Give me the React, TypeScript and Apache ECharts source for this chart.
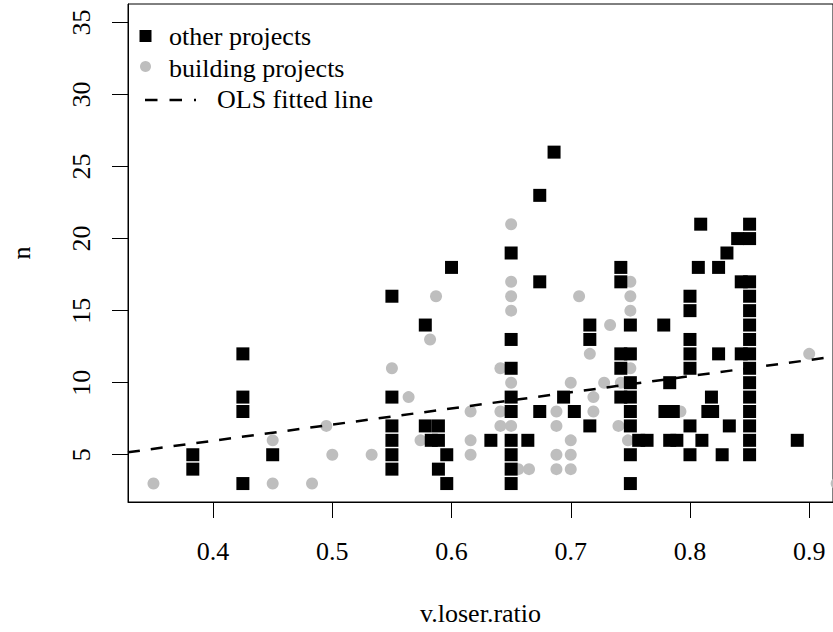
import React, { useEffect, useRef } from "react";
import * as echarts from "echarts";

// other projects (black squares)
const otherRatio = [
  0.383, 0.383, 0.425, 0.425, 0.425, 0.425, 0.45,
  0.55, 0.55, 0.55, 0.55, 0.55, 0.55,
  0.578, 0.578, 0.589, 0.583, 0.589, 0.596, 0.589, 0.596, 0.6,
  0.633,
  0.65, 0.65, 0.65, 0.65, 0.65, 0.65, 0.65, 0.65, 0.65,
  0.664, 0.674, 0.674, 0.674, 0.686, 0.694, 0.703,
  0.716, 0.716, 0.716,
  0.742, 0.742, 0.742, 0.742, 0.742,
  0.75, 0.75, 0.75, 0.75, 0.75, 0.75, 0.75, 0.75,
  0.757, 0.764,
  0.778, 0.783, 0.779, 0.786, 0.783, 0.789,
  0.8, 0.8, 0.8, 0.8, 0.8, 0.8, 0.8,
  0.807, 0.809, 0.81, 0.815, 0.819, 0.818,
  0.824, 0.824, 0.827, 0.831, 0.833,
  0.84, 0.843, 0.843,
  0.85, 0.85, 0.85, 0.85, 0.85, 0.85, 0.85, 0.85, 0.85, 0.85, 0.85, 0.85, 0.85, 0.85, 0.85,
  0.89,
];
const otherN = [
  5, 4, 12, 9, 8, 3, 5,
  16, 9, 7, 6, 5, 4,
  14, 7, 7, 6, 6, 5, 4, 3, 18,
  6,
  19, 13, 11, 9, 8, 6, 5, 4, 3,
  6, 8, 17, 23, 26, 9, 8,
  14, 13, 7,
  18, 17, 12, 11, 9,
  14, 12, 10, 9, 8, 7, 5, 3,
  6, 6,
  14, 10, 8, 8, 6, 6,
  16, 15, 13, 12, 11, 7, 5,
  18, 21, 6, 8, 8, 9,
  18, 12, 5, 19, 7,
  20, 17, 12,
  21, 20, 17, 16, 15, 14, 13, 12, 11, 10, 9, 8, 7, 6, 5,
  6,
];

// building projects (grey dots)
const buildingRatio = [
  0.35, 0.45, 0.45, 0.483, 0.495, 0.5, 0.533,
  0.55, 0.564, 0.574, 0.582, 0.587,
  0.616, 0.616, 0.616, 0.641, 0.641, 0.641,
  0.65, 0.65, 0.65, 0.65, 0.65, 0.65,
  0.656, 0.665, 0.688, 0.688, 0.688, 0.688,
  0.7, 0.7, 0.7, 0.7, 0.707,
  0.716, 0.719, 0.719, 0.728, 0.733, 0.742, 0.74,
  0.75, 0.75, 0.75, 0.75, 0.748,
  0.792, 0.9, 0.923,
];
const buildingN = [
  3, 6, 3, 3, 7, 5, 5,
  11, 9, 6, 13, 16,
  8, 6, 5, 11, 8, 7,
  21, 17, 16, 15, 10, 7,
  4, 4, 8, 7, 5, 4,
  10, 6, 5, 4, 16,
  12, 9, 8, 10, 14, 10, 7,
  17, 16, 15, 11, 6,
  8, 12, 3,
];

// OLS fitted line, end points
const olsRatio = [0.3286, 0.92];
const olsN = [5.17, 11.8];

const xTicks = [0.4, 0.5, 0.6, 0.7, 0.8, 0.9];
const yTicks = [5, 10, 15, 20, 25, 30, 35];

const legendLabels = ["other projects", "building projects", "OLS fitted line"];

const FONT = "Liberation Serif";

function zip(a: number[], b: number[]) {
  return a.map((v, i) => [v, b[i]]);
}

export default function App() {
  const ref = useRef<HTMLDivElement>(null);
  useEffect(() => {
    if (!ref.current) return;
    const chart = echarts.init(ref.current, null, { renderer: "svg" });
    const black = "#000";
    const grey = "#BEBEBE";
    const txt = (text: string, x: number, y: number) => ({
      type: "text",
      x,
      y,
      style: {
        text,
        fontFamily: FONT,
        fontSize: 26,
        fill: black,
        verticalAlign: "middle",
        align: "left",
      },
    });
    chart.setOption({
      animation: false,
      backgroundColor: "#fff",
      textStyle: { fontFamily: FONT },
      grid: {
        left: 123,
        top: 4,
        width: 711,
        height: 498,
        show: true,
        borderColor: black,
        borderWidth: 1,
        containLabel: false,
      },
      xAxis: {
        type: "value",
        min: 0.32864,
        max: 0.91996,
        name: "v.loser.ratio",
        nameLocation: "middle",
        nameGap: 98,
        nameTextStyle: { fontFamily: FONT, fontSize: 26, color: black },
        axisLine: { show: true, lineStyle: { color: black, width: 1 } },
        axisTick: {
          show: true,
          inside: false,
          length: 16,
          customValues: xTicks,
          lineStyle: { color: black, width: 1 },
        },
        axisLabel: {
          show: true,
          customValues: xTicks,
          margin: 36,
          fontFamily: FONT,
          fontSize: 26,
          color: black,
          formatter: (v: number) => v.toFixed(1),
        },
        splitLine: { show: false },
      },
      yAxis: {
        type: "value",
        min: 1.72,
        max: 36.28,
        name: "n",
        nameLocation: "middle",
        nameGap: 94,
        nameTextStyle: { fontFamily: FONT, fontSize: 26, color: black },
        axisLine: { show: true, lineStyle: { color: black, width: 1 } },
        axisTick: {
          show: true,
          inside: false,
          length: 16,
          customValues: yTicks,
          lineStyle: { color: black, width: 1 },
        },
        axisLabel: {
          show: true,
          customValues: yTicks,
          rotate: 90,
          margin: 34,
          fontFamily: FONT,
          fontSize: 26,
          color: black,
        },
        splitLine: { show: false },
      },
      series: [
        {
          name: legendLabels[1],
          type: "scatter",
          symbol: "circle",
          symbolSize: 12,
          clip: false,
          itemStyle: { color: grey, opacity: 1 },
          data: zip(buildingRatio, buildingN),
          z: 2,
        },
        {
          name: legendLabels[0],
          type: "scatter",
          symbol: "rect",
          symbolSize: 13,
          itemStyle: { color: black, opacity: 1 },
          data: zip(otherRatio, otherN),
          z: 3,
        },
        {
          name: legendLabels[2],
          type: "line",
          symbol: "none",
          lineStyle: { color: black, width: 2.5, type: [12, 11] },
          data: zip(olsRatio, olsN),
          z: 4,
        },
      ],
      graphic: [
        {
          type: "rect",
          shape: { x: 139.5, y: 30, width: 12, height: 12 },
          style: { fill: black },
        },
        {
          type: "circle",
          shape: { cx: 145.5, cy: 66.5, r: 5.5 },
          style: { fill: grey },
        },
        {
          type: "line",
          shape: { x1: 145, y1: 100, x2: 196, y2: 100 },
          style: { stroke: black, lineWidth: 2.5, lineDash: [12.5, 12] },
        },
        txt(legendLabels[0], 169, 36.5),
        txt(legendLabels[1], 169, 68),
        txt(legendLabels[2], 217, 99.5),
      ],
    });
    return () => chart.dispose();
  }, []);
  return (
    <div
      ref={ref}
      style={{ position: "fixed", left: 0, top: 0, width: 833, height: 632 }}
    />
  );
}
